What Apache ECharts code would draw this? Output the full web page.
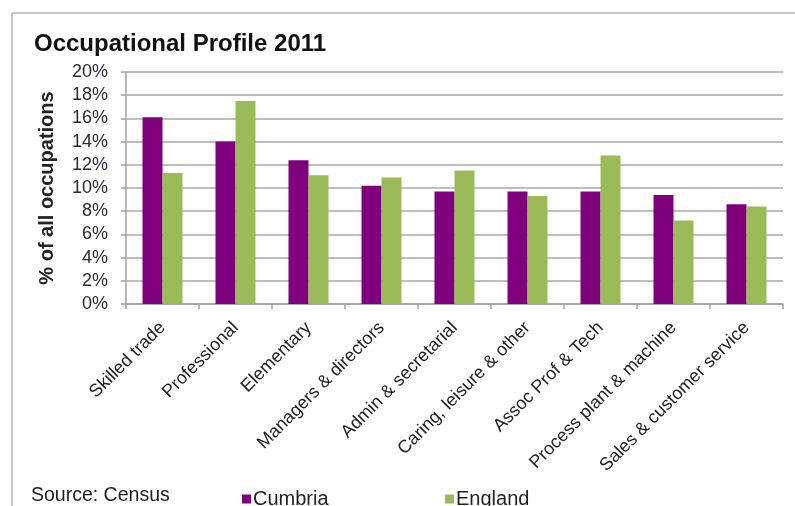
<!DOCTYPE html>
<html>
<head>
<meta charset="utf-8">
<script src="https://cdn.jsdelivr.net/npm/echarts@6/dist/echarts.min.js"></script>
<style>
html,body{margin:0;padding:0;background:#fff;}
#chart{width:795px;height:506px;}
</style>
</head>
<body>
<div id="chart"></div>
<script>
var categories = ['Skilled trade','Professional','Elementary','Managers & directors','Admin & secretarial','Caring, leisure & other','Assoc Prof & Tech','Process plant & machine','Sales & customer service'];
var cumbria = [16.1, 14.0, 12.4, 10.2, 9.7, 9.7, 9.7, 9.4, 8.6];
var england = [11.3, 17.5, 11.1, 10.9, 11.5, 9.3, 12.8, 7.2, 8.4];
var yTicks = [0, 2, 4, 6, 8, 10, 12, 14, 16, 18, 20];

var FONT = '"Liberation Sans", Arial, Helvetica, sans-serif';
var chart = echarts.init(document.getElementById('chart'), null, {renderer: 'canvas'});
chart.setOption({
  animation: false,
  backgroundColor: '#ffffff',
  textStyle: {fontFamily: FONT},
  title: {
    text: 'Occupational Profile 2011',
    left: 29, top: 27,
    textStyle: {fontFamily: FONT, fontSize: 24, fontWeight: 'bold', color: '#111'}
  },
  graphic: [
    {type: 'rect', shape: {x: 12, y: 13, width: 800, height: 520}, style: {fill: 'none', stroke: '#b8b8b8', lineWidth: 1.5}, silent: true, z: -1},
    {type: 'text', left: 31, top: 486, style: {text: 'Source: Census', font: '19.5px ' + FONT, fill: '#222'}}
  ],
  legend: [
    {data: ['Cumbria'], left: 237, top: 484, icon: 'rect', itemWidth: 9, itemHeight: 9, itemGap: 4,
     textStyle: {fontFamily: FONT, fontSize: 20, color: '#222', padding: [0,0,0,-3]}},
    {data: ['England'], left: 440, top: 484, icon: 'rect', itemWidth: 9, itemHeight: 9, itemGap: 4,
     textStyle: {fontFamily: FONT, fontSize: 20, color: '#222', padding: [0,0,0,-3]}}
  ],
  grid: {left: 126, right: 12, top: 72, bottom: 202, containLabel: false},
  xAxis: {
    type: 'category',
    data: categories,
    axisLine: {show: true, lineStyle: {color: '#a0a0a0', width: 1.5}},
    axisTick: {show: true, length: 5, lineStyle: {color: '#a0a0a0', width: 1.5}},
    axisLabel: {rotate: 45, margin: 21, fontFamily: FONT, fontSize: 18, color: '#222', interval: 0}
  },
  yAxis: {
    type: 'value',
    min: 0, max: 20, interval: 2,
    name: '% of all occupations',
    nameLocation: 'middle',
    nameGap: 69,
    nameTextStyle: {fontFamily: FONT, fontSize: 20, fontWeight: 'bold', color: '#222'},
    axisLine: {show: true, lineStyle: {color: '#a0a0a0', width: 1.5}},
    axisTick: {show: true, length: 5, lineStyle: {color: '#a0a0a0', width: 1.5}},
    splitLine: {show: true, lineStyle: {color: '#a8a8a8', width: 1.5}},
    axisLabel: {
      margin: 18, fontFamily: FONT, fontSize: 18, color: '#2a2a3a',
      formatter: function (v) { return yTicks.indexOf(v) >= 0 ? v + '%' : ''; }
    }
  },
  series: [
    {name: 'Cumbria', type: 'bar', data: cumbria, barWidth: 20, barGap: '0%', itemStyle: {color: '#7f007c'}},
    {name: 'England', type: 'bar', data: england, barWidth: 20, barGap: '0%', itemStyle: {color: '#9bbb59'}}
  ]
});
</script>
</body>
</html>
